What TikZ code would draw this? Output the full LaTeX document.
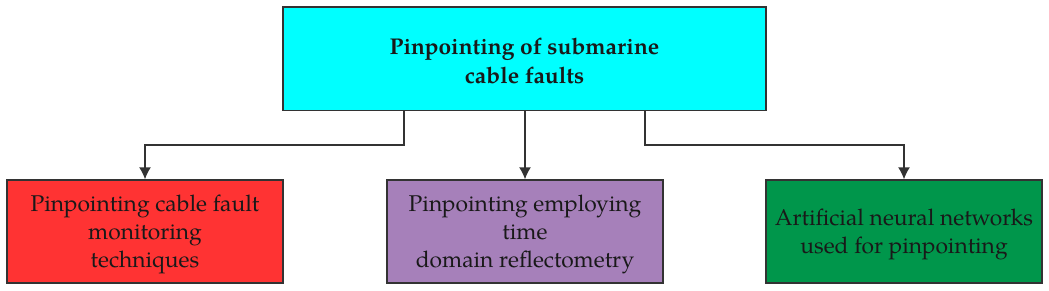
\documentclass[tikz,border=0pt]{standalone}
\usepackage{fontspec}
\setmainfont{TeX Gyre Pagella}
\usetikzlibrary{arrows.meta}
\definecolor{topcyan}{HTML}{00FFFF}
\definecolor{boxred}{HTML}{FF3333}
\definecolor{boxpurple}{HTML}{A680BA}
\definecolor{boxgreen}{HTML}{00964B}
\definecolor{edgegray}{HTML}{333333}
\newcommand{\shiftedtext}[3]{\raisebox{-#1}[\height][\depth]{\parbox{#2}{\centering #3}}}
\tikzset{
  box/.style={draw=edgegray, line width=1.4pt, inner sep=0pt, align=center,
    font=\fontsize{22.8}{28}\selectfont, text=black!90},
  topbox/.style={box, fill=topcyan, minimum width=483pt, minimum height=103.5pt, font=\bfseries\fontsize{22.8}{29}\selectfont},
  leafbox/.style={box, minimum width=276pt, minimum height=103pt},
  conn/.style={draw=edgegray, line width=1.4pt},
  arr/.style={conn, -{Latex[length=12pt,width=12pt]}}
}
\begin{document}
\begin{tikzpicture}[x=1pt,y=-1pt]
\useasboundingbox (0,0) rectangle (1049,290);
\node[topbox] (top) at (524.5,58.75) {\shiftedtext{2pt}{460pt}{Pinpointing of submarine\\cable faults}};
\node[leafbox, fill=boxred] (red) at (145,231.5) {\shiftedtext{3pt}{266pt}{Pinpointing cable fault\\monitoring\\techniques}};
\node[leafbox, fill=boxpurple] (mid) at (525,231.5) {\shiftedtext{3pt}{266pt}{Pinpointing employing\\time\\domain reflectometry}};
\node[leafbox, fill=boxgreen] (green) at (904,231.5) {\shiftedtext{3pt}{266pt}{Artificial neural networks\\used for pinpointing}};
\coordinate (t1) at (404,145);
\coordinate (t3) at (645,145);
\draw[arr] (top.south -| t1) -- (t1) -- (t1 -| red.north) -- (red.north);
\draw[arr] (top.south -| mid.north) -- (mid.north);
\draw[arr] (top.south -| t3) -- (t3) -- (t3 -| green.north) -- (green.north);
\end{tikzpicture}
\end{document}
